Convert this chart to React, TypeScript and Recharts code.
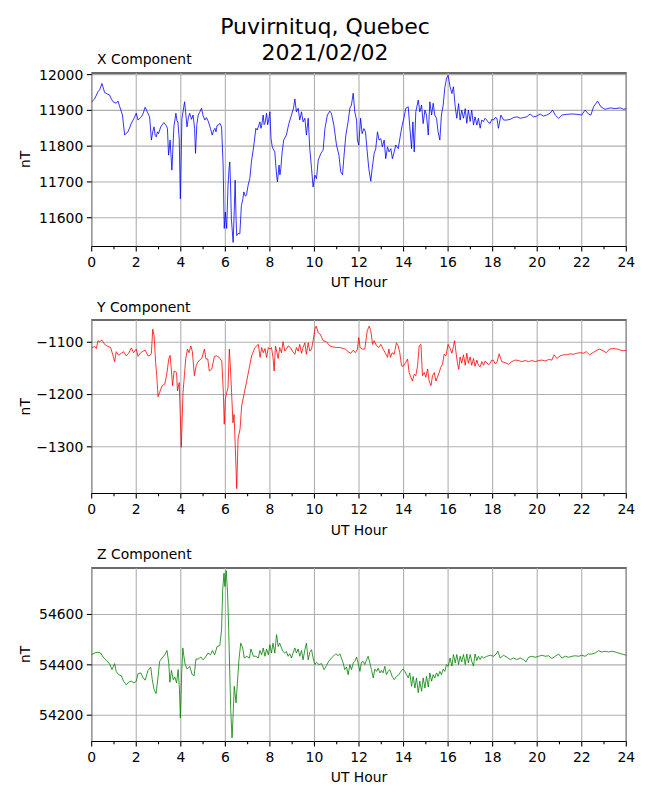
import React from "react";
import { LineChart, Line, XAxis, YAxis, CartesianGrid, ReferenceArea, ReferenceLine } from "recharts";

// hour of day (UT), field value in nT
const xComponent: [number, number][] = [
  [0, 11924], [0.13, 11932], [0.28, 11952], [0.36, 11958], [0.46, 11975], [0.58, 11950], [0.7, 11946], [0.8, 11943],
  [0.9, 11930], [0.96, 11924], [1.1, 11920], [1.18, 11926], [1.26, 11910], [1.38, 11887], [1.48, 11831], [1.55, 11836],
  [1.63, 11840], [1.78, 11864], [1.9, 11878], [2.0, 11892], [2.08, 11873], [2.23, 11882], [2.3, 11890], [2.4, 11909],
  [2.5, 11895], [2.6, 11882], [2.68, 11817], [2.74, 11840], [2.8, 11854], [2.85, 11830], [2.9, 11826], [2.95, 11840],
  [3.0, 11835], [3.1, 11854], [3.24, 11866], [3.34, 11858], [3.4, 11850], [3.45, 11775], [3.52, 11817], [3.6, 11733],
  [3.69, 11854], [3.78, 11892], [3.83, 11870], [3.87, 11868], [3.93, 11820], [3.98, 11653], [4.05, 11877], [4.17, 11924],
  [4.28, 11854], [4.34, 11880], [4.4, 11892], [4.48, 11875], [4.55, 11887], [4.62, 11850], [4.66, 11780], [4.72, 11860],
  [4.78, 11887], [4.85, 11895], [4.93, 11906], [5.0, 11885], [5.08, 11873], [5.15, 11880], [5.23, 11870], [5.33, 11850],
  [5.41, 11831], [5.48, 11845], [5.53, 11850], [5.58, 11840], [5.63, 11858], [5.7, 11860], [5.75, 11864], [5.83, 11854],
  [5.9, 11747], [5.95, 11570], [6.0, 11616], [6.06, 11570], [6.12, 11690], [6.17, 11740], [6.2, 11756], [6.23, 11700],
  [6.27, 11597], [6.35, 11531], [6.4, 11620], [6.44, 11705], [6.48, 11600], [6.51, 11550], [6.58, 11556], [6.65, 11555],
  [6.72, 11634], [6.78, 11650], [6.83, 11672], [6.9, 11660], [6.95, 11664], [7.02, 11690], [7.1, 11710], [7.17, 11756],
  [7.28, 11803], [7.37, 11850], [7.43, 11845], [7.48, 11854], [7.55, 11868], [7.6, 11850], [7.63, 11858], [7.7, 11887],
  [7.74, 11860], [7.78, 11864], [7.85, 11892], [7.9, 11860], [7.93, 11868], [8.0, 11896], [8.05, 11822], [8.1, 11800],
  [8.14, 11793], [8.22, 11784], [8.3, 11719], [8.34, 11700], [8.41, 11747], [8.45, 11720], [8.49, 11737], [8.55, 11784],
  [8.62, 11817], [8.74, 11831], [8.85, 11863], [8.97, 11887], [9.06, 11906], [9.12, 11932], [9.19, 11896], [9.27, 11906],
  [9.34, 11873], [9.42, 11896], [9.49, 11868], [9.57, 11878], [9.64, 11831], [9.72, 11878], [9.79, 11793], [9.87, 11737],
  [9.94, 11686], [10.02, 11719], [10.09, 11709], [10.17, 11761], [10.29, 11780], [10.39, 11789], [10.47, 11849], [10.58, 11887],
  [10.69, 11898], [10.76, 11892], [10.87, 11859], [10.99, 11803], [11.1, 11775], [11.18, 11728], [11.26, 11720], [11.33, 11775],
  [11.41, 11831], [11.51, 11868], [11.59, 11906], [11.66, 11915], [11.74, 11948], [11.81, 11896], [11.89, 11873], [11.93, 11817],
  [11.99, 11803], [12.07, 11878], [12.14, 11835], [12.22, 11849], [12.29, 11840], [12.37, 11784], [12.44, 11737], [12.53, 11702],
  [12.59, 11737], [12.68, 11780], [12.75, 11793], [12.83, 11840], [12.9, 11817], [12.98, 11821], [13.05, 11798], [13.13, 11817],
  [13.2, 11765], [13.28, 11798], [13.35, 11784], [13.43, 11793], [13.5, 11765], [13.58, 11784], [13.65, 11803], [13.76, 11793],
  [13.86, 11831], [13.94, 11859], [14.03, 11882], [14.1, 11906], [14.21, 11910], [14.28, 11854], [14.36, 11793], [14.42, 11868],
  [14.48, 11784], [14.55, 11896], [14.66, 11929], [14.73, 11896], [14.81, 11915], [14.88, 11863], [14.96, 11901], [15.03, 11887],
  [15.11, 11831], [15.18, 11924], [15.26, 11887], [15.33, 11920], [15.4, 11887], [15.48, 11878], [15.55, 11840], [15.63, 11817],
  [15.7, 11887], [15.78, 11915], [15.85, 11962], [15.93, 11990], [16.0, 11998], [16.09, 11966], [16.17, 11947], [16.24, 11966],
  [16.32, 11910], [16.39, 11878], [16.47, 11919], [16.54, 11873], [16.61, 11901], [16.69, 11878], [16.77, 11905], [16.84, 11864],
  [16.91, 11901], [16.99, 11869], [17.06, 11901], [17.14, 11859], [17.21, 11882], [17.29, 11859], [17.36, 11878], [17.44, 11850],
  [17.51, 11873], [17.59, 11869], [17.66, 11878], [17.74, 11873], [17.81, 11866], [17.89, 11864], [17.96, 11875], [18.04, 11873],
  [18.11, 11880], [18.19, 11878], [18.26, 11850], [18.37, 11887], [18.49, 11873], [18.64, 11873], [18.79, 11875], [18.94, 11880],
  [19.09, 11882], [19.24, 11878], [19.38, 11880], [19.53, 11882], [19.68, 11890], [19.83, 11882], [19.98, 11884], [20.13, 11890],
  [20.28, 11884], [20.43, 11887], [20.58, 11892], [20.69, 11901], [20.81, 11887], [20.96, 11878], [21.11, 11887], [21.33, 11889],
  [21.56, 11890], [21.78, 11889], [22.0, 11887], [22.15, 11901], [22.3, 11890], [22.41, 11887], [22.53, 11910], [22.71, 11926],
  [22.86, 11910], [23.05, 11903], [23.28, 11907], [23.5, 11905], [23.73, 11907], [23.88, 11903], [24.0, 11905],
];

const yComponent: [number, number][] = [
  [0, -1111], [0.13, -1108], [0.21, -1112], [0.28, -1097], [0.36, -1099], [0.46, -1096], [0.58, -1104], [0.73, -1108],
  [0.85, -1110], [0.96, -1126], [1.03, -1137], [1.1, -1118], [1.21, -1125], [1.33, -1121], [1.43, -1118], [1.55, -1126],
  [1.66, -1121], [1.78, -1111], [1.88, -1120], [2.0, -1113], [2.08, -1127], [2.2, -1120], [2.31, -1117], [2.4, -1115],
  [2.53, -1126], [2.62, -1125], [2.68, -1121], [2.74, -1075], [2.8, -1087], [2.87, -1139], [2.92, -1164], [2.98, -1204],
  [3.05, -1196], [3.16, -1183], [3.28, -1180], [3.37, -1161], [3.46, -1132], [3.52, -1125], [3.58, -1155], [3.63, -1183],
  [3.7, -1155], [3.81, -1158], [3.85, -1193], [3.93, -1177], [4.02, -1301], [4.1, -1196], [4.16, -1164], [4.22, -1132],
  [4.3, -1113], [4.37, -1120], [4.45, -1107], [4.52, -1118], [4.61, -1164], [4.69, -1145], [4.75, -1139], [4.84, -1134],
  [4.94, -1131], [5.06, -1113], [5.13, -1132], [5.21, -1132], [5.28, -1155], [5.39, -1151], [5.51, -1127], [5.61, -1126],
  [5.72, -1129], [5.84, -1136], [5.91, -1196], [5.95, -1257], [6.0, -1209], [6.06, -1196], [6.12, -1187], [6.18, -1113],
  [6.23, -1151], [6.28, -1196], [6.34, -1254], [6.39, -1238], [6.45, -1304], [6.51, -1380], [6.57, -1285], [6.66, -1266],
  [6.73, -1222], [6.84, -1199], [6.96, -1174], [7.06, -1152], [7.18, -1126], [7.33, -1110], [7.48, -1104], [7.56, -1129],
  [7.63, -1110], [7.7, -1120], [7.78, -1112], [7.85, -1129], [7.93, -1110], [8.0, -1113], [8.07, -1110], [8.14, -1129],
  [8.19, -1155], [8.25, -1107], [8.32, -1120], [8.37, -1131], [8.44, -1110], [8.52, -1120], [8.59, -1099], [8.67, -1117],
  [8.74, -1113], [8.82, -1107], [8.92, -1110], [9.01, -1117], [9.12, -1123], [9.19, -1110], [9.27, -1117], [9.34, -1104],
  [9.42, -1121], [9.49, -1110], [9.57, -1101], [9.64, -1123], [9.72, -1101], [9.79, -1117], [9.87, -1113], [9.94, -1097],
  [10.02, -1075], [10.08, -1069], [10.17, -1082], [10.27, -1085], [10.39, -1097], [10.54, -1099], [10.69, -1107], [10.84, -1109],
  [10.99, -1110], [11.14, -1110], [11.29, -1112], [11.39, -1113], [11.51, -1118], [11.63, -1121], [11.74, -1115], [11.84, -1120],
  [11.93, -1113], [11.99, -1091], [12.05, -1110], [12.14, -1113], [12.26, -1113], [12.37, -1078], [12.46, -1069], [12.53, -1078],
  [12.61, -1104], [12.68, -1097], [12.79, -1107], [12.89, -1110], [12.98, -1104], [13.08, -1113], [13.19, -1121], [13.28, -1129],
  [13.34, -1113], [13.41, -1129], [13.49, -1120], [13.58, -1123], [13.68, -1101], [13.76, -1107], [13.83, -1120], [13.91, -1145],
  [13.98, -1146], [14.09, -1139], [14.18, -1132], [14.25, -1158], [14.33, -1167], [14.4, -1174], [14.48, -1161], [14.55, -1164],
  [14.63, -1145], [14.7, -1107], [14.78, -1104], [14.85, -1164], [14.93, -1158], [15.0, -1167], [15.08, -1151], [15.15, -1174],
  [15.23, -1183], [15.3, -1164], [15.38, -1158], [15.45, -1174], [15.52, -1167], [15.6, -1158], [15.67, -1148], [15.75, -1142],
  [15.82, -1123], [15.9, -1126], [16.0, -1104], [16.09, -1112], [16.17, -1121], [16.24, -1108], [16.29, -1097], [16.36, -1121],
  [16.42, -1140], [16.48, -1152], [16.54, -1128], [16.61, -1140], [16.69, -1124], [16.77, -1144], [16.84, -1121], [16.91, -1140],
  [16.99, -1128], [17.06, -1144], [17.14, -1131], [17.21, -1146], [17.29, -1134], [17.36, -1144], [17.44, -1147], [17.51, -1137],
  [17.59, -1144], [17.66, -1136], [17.74, -1139], [17.81, -1143], [17.89, -1140], [17.96, -1134], [18.04, -1135], [18.11, -1141],
  [18.19, -1139], [18.29, -1122], [18.41, -1137], [18.56, -1139], [18.71, -1142], [18.86, -1137], [19.01, -1134], [19.16, -1135],
  [19.31, -1137], [19.46, -1135], [19.61, -1137], [19.76, -1135], [19.91, -1137], [20.06, -1135], [20.21, -1134], [20.36, -1136],
  [20.51, -1133], [20.66, -1134], [20.76, -1124], [20.88, -1131], [21.03, -1126], [21.18, -1124], [21.33, -1124], [21.48, -1122],
  [21.63, -1123], [21.78, -1121], [21.93, -1120], [22.08, -1121], [22.2, -1118], [22.35, -1124], [22.5, -1120], [22.65, -1116],
  [22.8, -1113], [22.95, -1116], [23.1, -1120], [23.25, -1113], [23.43, -1112], [23.58, -1113], [23.73, -1115], [23.88, -1116],
  [24.0, -1116],
];

const zComponent: [number, number][] = [
  [0, 54440], [0.13, 54447], [0.28, 54450], [0.4, 54447], [0.51, 54431], [0.66, 54418], [0.81, 54403], [0.91, 54381],
  [1.03, 54405], [1.1, 54374], [1.21, 54361], [1.33, 54357], [1.43, 54335], [1.55, 54321], [1.66, 54331], [1.78, 54335],
  [1.9, 54328], [2.0, 54335], [2.08, 54365], [2.2, 54368], [2.31, 54348], [2.4, 54339], [2.53, 54378], [2.65, 54391],
  [2.72, 54341], [2.8, 54302], [2.89, 54286], [2.98, 54354], [3.05, 54414], [3.16, 54427], [3.28, 54440], [3.38, 54457],
  [3.46, 54407], [3.51, 54331], [3.58, 54378], [3.66, 54341], [3.73, 54352], [3.81, 54328], [3.88, 54381], [3.94, 54302],
  [3.98, 54189], [4.04, 54368], [4.09, 54467], [4.18, 54407], [4.28, 54383], [4.4, 54394], [4.51, 54361], [4.6, 54357],
  [4.68, 54423], [4.78, 54423], [4.9, 54431], [5.0, 54420], [5.1, 54430], [5.22, 54447], [5.33, 54440], [5.42, 54457],
  [5.52, 54440], [5.63, 54473], [5.75, 54476], [5.83, 54539], [5.88, 54698], [5.94, 54764], [5.98, 54711], [6.04, 54774],
  [6.1, 54684], [6.15, 54539], [6.2, 54368], [6.24, 54222], [6.3, 54110], [6.34, 54183], [6.4, 54315], [6.48, 54249],
  [6.54, 54328], [6.61, 54420], [6.69, 54486], [6.78, 54467], [6.85, 54427], [6.96, 54434], [7.08, 54427], [7.15, 54463],
  [7.26, 54434], [7.37, 54434], [7.48, 54427], [7.55, 54457], [7.63, 54440], [7.7, 54467], [7.78, 54434], [7.85, 54463],
  [7.93, 54440], [8.0, 54480], [8.07, 54447], [8.14, 54486], [8.22, 54447], [8.3, 54520], [8.37, 54473], [8.44, 54486],
  [8.52, 54467], [8.59, 54453], [8.67, 54447], [8.74, 54453], [8.82, 54434], [8.89, 54444], [8.97, 54427], [9.04, 54447],
  [9.12, 54467], [9.19, 54447], [9.27, 54463], [9.34, 54434], [9.42, 54457], [9.49, 54420], [9.57, 54460], [9.64, 54486],
  [9.72, 54420], [9.79, 54450], [9.87, 54460], [9.94, 54427], [10.02, 54401], [10.09, 54410], [10.2, 54401], [10.32, 54405],
  [10.43, 54381], [10.54, 54397], [10.64, 54414], [10.76, 54427], [10.87, 54436], [10.96, 54444], [11.06, 54436], [11.14, 54444],
  [11.21, 54427], [11.29, 54407], [11.36, 54381], [11.44, 54391], [11.51, 54361], [11.59, 54401], [11.66, 54381], [11.74, 54407],
  [11.81, 54414], [11.89, 54431], [11.96, 54407], [12.04, 54374], [12.11, 54410], [12.19, 54414], [12.26, 54401], [12.34, 54420],
  [12.41, 54434], [12.49, 54407], [12.56, 54381], [12.64, 54348], [12.71, 54383], [12.79, 54374], [12.86, 54387], [12.94, 54368],
  [13.01, 54378], [13.08, 54368], [13.16, 54394], [13.23, 54361], [13.31, 54374], [13.38, 54381], [13.49, 54354], [13.58, 54341],
  [13.68, 54354], [13.79, 54361], [13.91, 54378], [13.98, 54383], [14.06, 54374], [14.13, 54361], [14.21, 54348], [14.28, 54368],
  [14.36, 54315], [14.43, 54354], [14.51, 54308], [14.58, 54348], [14.66, 54289], [14.73, 54335], [14.81, 54295], [14.88, 54348],
  [14.96, 54308], [15.03, 54354], [15.11, 54312], [15.18, 54368], [15.26, 54335], [15.33, 54361], [15.4, 54348], [15.48, 54368],
  [15.55, 54354], [15.63, 54374], [15.7, 54361], [15.78, 54383], [15.85, 54374], [15.93, 54401], [16.0, 54394], [16.09, 54427],
  [16.17, 54395], [16.24, 54441], [16.32, 54408], [16.39, 54441], [16.47, 54401], [16.54, 54434], [16.61, 54412], [16.69, 54441],
  [16.77, 54401], [16.84, 54443], [16.91, 54408], [16.99, 54441], [17.06, 54414], [17.14, 54395], [17.21, 54443], [17.29, 54417],
  [17.36, 54434], [17.44, 54421], [17.51, 54434], [17.59, 54427], [17.74, 54434], [17.89, 54438], [18.04, 54434], [18.16, 54443],
  [18.23, 54454], [18.34, 54427], [18.49, 54438], [18.64, 54430], [18.79, 54421], [18.94, 54427], [19.09, 54421], [19.24, 54427],
  [19.38, 54421], [19.5, 54412], [19.61, 54430], [19.76, 54434], [19.91, 54430], [20.06, 54434], [20.21, 54438], [20.36, 54434],
  [20.51, 54436], [20.66, 54425], [20.81, 54434], [20.96, 54443], [21.11, 54427], [21.26, 54434], [21.41, 54430], [21.56, 54434],
  [21.71, 54436], [21.86, 54434], [22.0, 54438], [22.15, 54434], [22.3, 54443], [22.45, 54443], [22.6, 54447], [22.75, 54456],
  [22.9, 54451], [23.05, 54454], [23.2, 54451], [23.35, 54454], [23.5, 54451], [23.65, 54447], [23.8, 54443], [24.0, 54438],
];

const hourTicks = [0, 2, 4, 6, 8, 10, 12, 14, 16, 18, 20, 22, 24];
const allHours = Array.from({ length: 25 }, (_, i) => i);
const xTicks = [11600, 11700, 11800, 11900, 12000];
const yTicks = [-1300, -1200, -1100];
const zTicks = [54200, 54400, 54600];

const FONT = "DejaVu Sans";
const PLOT_LEFT = 91.7;
const PLOT_RIGHT = 626.3;
const PLOT_H = 173.5;

const fmt = (v: number) => (v < 0 ? `\u2212${Math.abs(v)}` : `${v}`);

// bottom axis tick: long tick + label on even hours, short minor tick on odd hours
const HourTick = (props: any) => {
  const { x, y, payload } = props;
  const major = payload.value % 2 === 0;
  return (
    <g>
      <line x1={x} x2={x} y1={y} y2={y + (major ? 4.9 : 2.8)} stroke="#000" strokeWidth={1.1} />
      {major && (
        <text x={x} y={y + 20} textAnchor="middle" fontSize={13.9} fontFamily={FONT} fill="#000">
          {payload.value}
        </text>
      )}
    </g>
  );
};

interface PanelProps {
  rows: [number, number][];
  color: string;
  domain: [number, number];
  ticks: number[];
  plotTop: number;
}

const Panel = ({ rows, color, domain, ticks, plotTop }: PanelProps) => {
  const data = rows.map(([t, v]) => ({ t, v }));
  const top = 20;
  const axisH = 45;
  return (
    <div style={{ position: "absolute", left: 0, top: plotTop - top }}>
      <LineChart
        width={650}
        height={top + PLOT_H + axisH}
        data={data}
        margin={{ top, right: 650 - PLOT_RIGHT, bottom: 0, left: 0 }}
      >
        <CartesianGrid stroke="#b0b0b0" strokeWidth={1.1} vertical={false} />
        {hourTicks.map((h) => (
          <ReferenceLine key={h} x={h} stroke="#b0b0b0" strokeWidth={1.1} />
        ))}
        <XAxis
          dataKey="t"
          type="number"
          domain={[0, 24]}
          ticks={allHours}
          interval={0}
          height={axisH}
          axisLine={false}
          tickLine={false}
          tickSize={0}
          tickMargin={0}
          tick={<HourTick />}
        />
        <YAxis
          type="number"
          domain={domain}
          ticks={ticks}
          interval={0}
          allowDataOverflow
          width={PLOT_LEFT}
          axisLine={false}
          tickSize={4.9}
          tickMargin={3.5}
          tickLine={{ stroke: "#000", strokeWidth: 1.1 }}
          tickFormatter={fmt}
          tick={{ fill: "#000", fontSize: 13.9, fontFamily: FONT }}
        />
        <Line
          dataKey="v"
          type="linear"
          stroke={color}
          strokeWidth={0.8}
          dot={false}
          isAnimationActive={false}
        />
        <ReferenceArea
          x1={0}
          x2={24}
          y1={domain[0]}
          y2={domain[1]}
          fill="none"
          stroke="#000"
          strokeWidth={1.1}
          ifOverflow="visible"
        />
      </LineChart>
    </div>
  );
};

const panels = [
  { title: "X Component", rows: xComponent, color: "#0000ff", domain: [11519.6, 12004.5] as [number, number], ticks: xTicks, plotTop: 72.7 },
  { title: "Y Component", rows: yComponent, color: "#ff0000", domain: [-1389.3, -1057.4] as [number, number], ticks: yTicks, plotTop: 320 },
  { title: "Z Component", rows: zComponent, color: "#008000", domain: [54095.5, 54784.6] as [number, number], ticks: zTicks, plotTop: 567.7 },
];

export default function App() {
  const cx = (PLOT_LEFT + PLOT_RIGHT) / 2;
  return (
    <div style={{ position: "absolute", left: 0, top: 0, width: 650, height: 800, background: "#fff", fontFamily: FONT }}>
      {panels.map((p) => (
        <Panel key={p.title} rows={p.rows} color={p.color} domain={p.domain} ticks={p.ticks} plotTop={p.plotTop} />
      ))}
      <svg width={650} height={800} style={{ position: "absolute", left: 0, top: 0, pointerEvents: "none" }}>
        <text x={325} y={34} textAnchor="middle" fontSize={22} fontFamily={FONT}>Puvirnituq, Quebec</text>
        <text x={325} y={60} textAnchor="middle" fontSize={22} fontFamily={FONT}>2021/02/02</text>
        {panels.map((p) => (
          <g key={p.title}>
            <text x={97} y={p.plotTop - 8.5} fontSize={13.9} fontFamily={FONT}>{p.title}</text>
            <text x={cx} y={p.plotTop + PLOT_H + 41} textAnchor="middle" fontSize={13.9} fontFamily={FONT}>UT Hour</text>
            <text
              transform={`translate(30, ${p.plotTop + PLOT_H / 2}) rotate(-90)`}
              textAnchor="middle"
              fontSize={13.9}
              fontFamily={FONT}
            >
              nT
            </text>
          </g>
        ))}
      </svg>
    </div>
  );
}
